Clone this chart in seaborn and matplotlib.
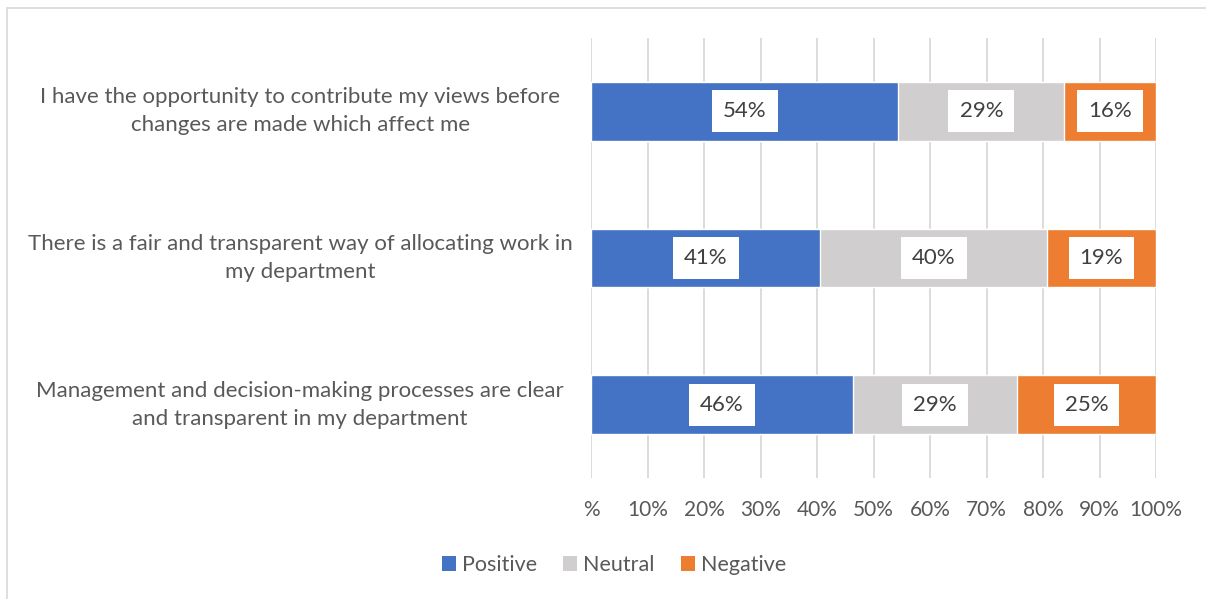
import numpy as np
import pandas as pd
import matplotlib
matplotlib.use("Agg")
import matplotlib.pyplot as plt
from matplotlib.patches import Rectangle
import seaborn as sns

questions = [
    "I have the opportunity to contribute my views before\nchanges are made which affect me",
    "There is a fair and transparent way of allocating work in\nmy department",
    "Management and decision-making processes are clear\nand transparent in my department",
]
positive = [54.4, 40.6, 46.4]
neutral = [29.4, 40.1, 29.0]
negative = [16.2, 19.3, 24.6]
series_names = ["Positive", "Neutral", "Negative"]
colors = ["#4472C4", "#D0CECE", "#ED7D31"]
tick_values = list(range(0, 101, 10))
tick_labels = ["%"] + [f"{v}%" for v in tick_values[1:]]

sns.set_theme(style="white")
plt.rcParams["font.family"] = ["Lato", "DejaVu Sans"]

df = pd.DataFrame({"question": questions, "Positive": positive,
                   "Neutral": neutral, "Negative": negative})
df["cum_neu"] = df["Positive"] + df["Neutral"]
df["cum_neg"] = df["cum_neu"] + df["Negative"]

fig = plt.figure(figsize=(12.06, 5.99), dpi=100)
ax = fig.add_axes([591 / 1206, 1 - 478 / 599, (1156 - 591) / 1206, 440 / 599])

# outer chart frame
fig.patches.append(Rectangle((7 / 1206, -0.01), 1.2, 1 - 8 / 599 + 0.01,
                             transform=fig.transFigure, fill=False,
                             edgecolor="#D9D9D9", linewidth=1.2, zorder=0))

# stacked layers drawn back to front
bar_w = 0.40
for col, c in [("cum_neg", colors[2]), ("cum_neu", colors[1]), ("Positive", colors[0])]:
    sns.barplot(data=df, y="question", x=col, color=c, orient="h",
                width=bar_w, ax=ax, saturation=1, zorder=3)

ax.set_xlim(0, 100)
ax.set_xticks(tick_values)
ax.set_xticklabels(tick_labels)
ax.grid(axis="x", color="#D9D9D9", linewidth=1.3, zorder=0)
ax.set_axisbelow(True)
for s in ax.spines.values():
    s.set_visible(False)
ax.set_xlabel("")
ax.set_ylabel("")
ax.tick_params(axis="x", length=0, pad=16, labelsize=15, labelcolor="#595959")
ax.tick_params(axis="y", length=0, labelsize=16, labelcolor="#595959")
for t in ax.get_yticklabels():
    t.set_horizontalalignment("center")
    t.set_verticalalignment("center")
    t.set_multialignment("center")
    t.set_linespacing(1.5)
    t.set_x(-0.506)

# data labels
starts = {"Positive": np.zeros(3), "Neutral": df["Positive"].values, "Negative": df["cum_neu"].values}
for name in series_names:
    vals = df[name].values
    for i, (st, v) in enumerate(zip(starts[name], vals)):
        ax.text(st + v / 2, i, f"{v:.0f}%", ha="center", va="center",
                fontsize=16, color="#404040", zorder=5,
                bbox=dict(boxstyle="square,pad=0.5", facecolor="white", edgecolor="none"))

handles = [Rectangle((0, 0), 1, 1, facecolor=c, edgecolor="none") for c in colors]
fig.legend(handles, series_names, loc="center", bbox_to_anchor=(614 / 1206, 1 - 565 / 599),
           ncol=3, frameon=False, fontsize=15.5, labelcolor="#595959",
           handlelength=0.65, handleheight=0.65, handletextpad=0.3, columnspacing=1.2)

fig.savefig("out.png", dpi=100)
